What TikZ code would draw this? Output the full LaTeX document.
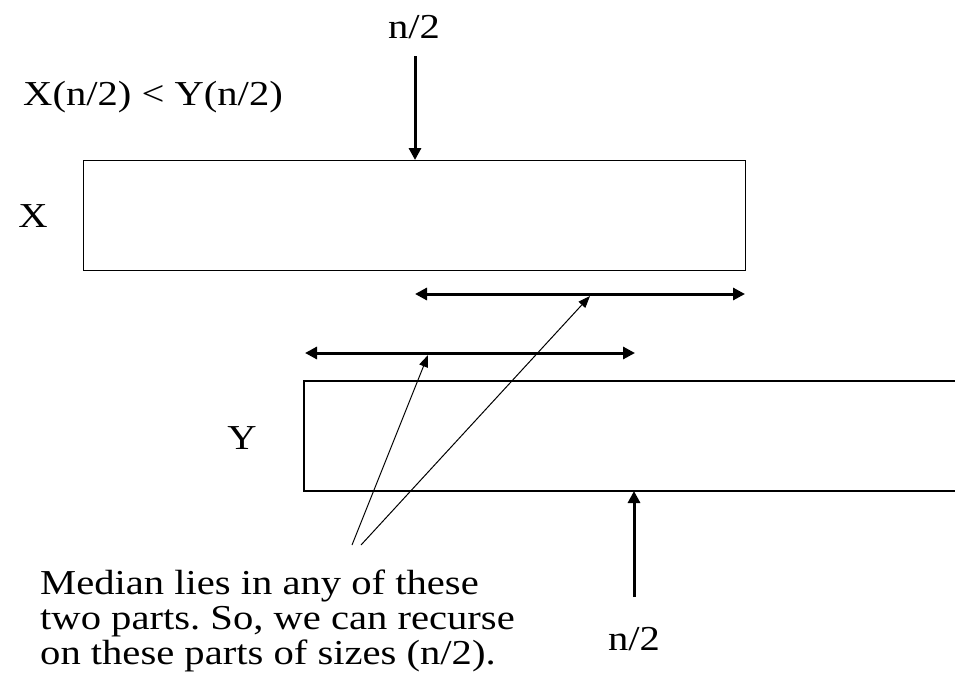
\documentclass[tikz,border=0pt]{standalone}
\usepackage{fontspec}
\setmainfont{Liberation Serif}[FakeStretch=1.16]
\usetikzlibrary{arrows.meta}
\begin{document}
\frenchspacing
\begin{tikzpicture}[x=1pt,y=-1pt,
  lbl/.style={inner sep=0pt,font=\fontsize{35}{35}\selectfont},
  thickarr/.style={line width=3pt,-{Triangle[length=12pt,width=12pt]}},
  dblarr/.style={line width=3pt,{Triangle[length=12pt,width=12pt]}-{Triangle[length=12pt,width=12pt]}},
  thinarr/.style={line width=1pt,-{Triangle[length=12pt,width=9pt]}},
  boxline/.style={line width=1.3pt}]
\useasboundingbox (0,0) rectangle (955,699);
% X box
\node[boxline,draw,minimum width=662pt,minimum height=110pt,inner sep=0pt,anchor=north west] (xbox) at (83,160) {};
% Y box (runs off the right edge)
\coordinate (ynw) at (304,381);
\coordinate (ysw) at (304,491);
\draw[boxline] (960,381) -- (ynw) -- (ysw) -- (960,491);
\coordinate (ybot) at (634,491);
% labels
\node[lbl,anchor=base] (ntop) at (414,38) {n/2};
\node[lbl,anchor=base west] (cond) at (23,105) {X(n/2) {<} Y(n/2)};
\node[lbl,anchor=base] (xl) at (33,227) {X};
\node[lbl,anchor=base] (yl) at (242,449) {Y};
\node[lbl,anchor=base] (nbot) at (634,650) {n/2};
\node[lbl,anchor=north west,align=left] (txt) at (40,570)
  {Median lies in any of these\\two parts. So, we can recurse\\on these parts of sizes (n/2).};
% arrows
\coordinate (atop) at (415,56);
\draw[thickarr] (atop) -- (xbox.north west -| atop);
\coordinate (abot) at (634,597);
\draw[thickarr] (abot) -- (ybot);
\coordinate (d1a) at (415,294);
\coordinate (d1b) at (745,294);
\draw[dblarr] (d1a) -- (d1b);
\coordinate (d2a) at (305,353);
\coordinate (d2b) at (635,353);
\draw[dblarr] (d2a) -- (d2b);
\coordinate (s1) at (352,545);
\coordinate (s2) at (361,545);
\coordinate (t1) at (428,355);
\coordinate (t2) at (590,296);
\draw[thinarr] (s1) -- (t1);
\draw[thinarr] (s2) -- (t2);
\end{tikzpicture}
\end{document}
